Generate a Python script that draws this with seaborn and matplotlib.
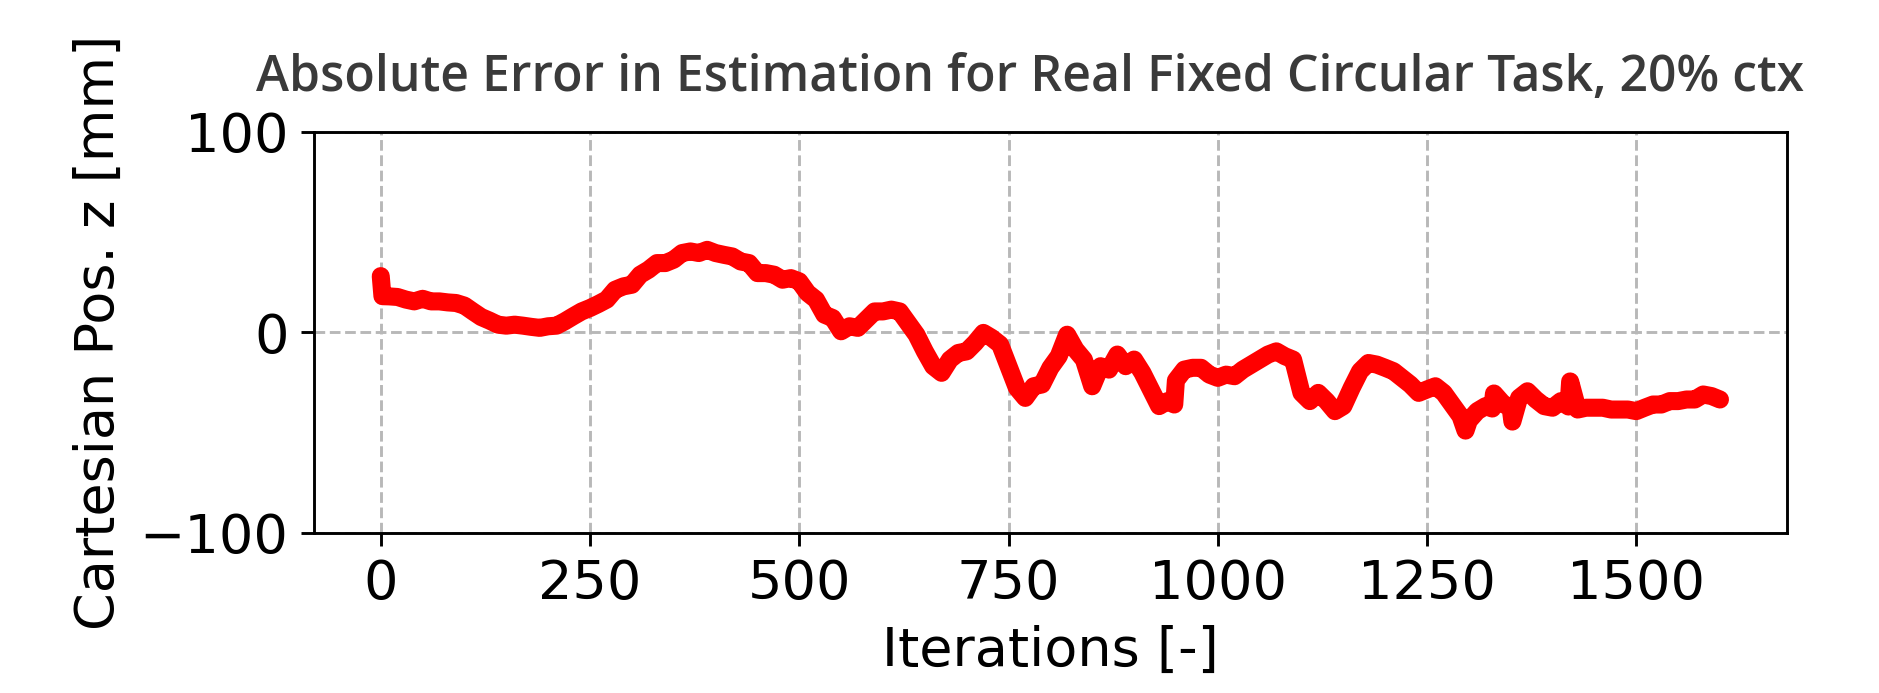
import numpy as np
import pandas as pd
import seaborn as sns
import matplotlib.pyplot as plt

# z-axis estimation error (iteration, mm)
iterations = [0, 2, 10, 20, 30, 40, 50, 60, 70, 80, 90, 100, 110, 120, 130, 140, 150,
              160, 170, 180, 190, 200, 210, 220, 230, 240, 250, 260, 270, 280, 290, 300,
              310, 320, 330, 340, 350, 360, 370, 380, 390, 400, 410, 420, 430, 440, 450,
              460, 470, 480, 490, 500, 510, 520, 530, 540, 550, 560, 570, 580, 590, 600,
              610, 620, 630, 640, 650, 660, 670, 680, 690, 700, 710, 720, 730, 740, 750,
              760, 770, 780, 790, 800, 810, 820, 830, 840, 850, 860, 870, 880, 890, 900,
              910, 920, 930, 940, 948, 950, 960, 970, 980, 990, 1000, 1010, 1020, 1030,
              1040, 1050, 1060, 1070, 1080, 1090, 1100, 1110, 1120, 1130, 1140, 1150,
              1160, 1170, 1180, 1190, 1200, 1210, 1220, 1230, 1240, 1250, 1260, 1270,
              1280, 1290, 1296, 1300, 1310, 1320, 1328, 1330, 1340, 1350, 1352, 1360,
              1370, 1380, 1390, 1400, 1410, 1419, 1421, 1430, 1440, 1450, 1460, 1470,
              1480, 1490, 1500, 1510, 1520, 1530, 1540, 1550, 1560, 1570, 1580, 1590, 1600]
error_z = [28.0, 18.0, 17.9, 17.6, 16.3, 15.4, 16.7, 15.4, 15.4, 14.9, 14.6, 13.3, 10.4,
           7.6, 5.8, 3.8, 3.3, 3.8, 3.3, 2.7, 2.2, 3.0, 3.3, 5.5, 8.0, 10.4, 12.1, 14.1,
           16.3, 21.2, 22.9, 23.7, 28.7, 31.2, 34.5, 34.5, 36.2, 39.5, 40.3, 39.5, 41.1,
           39.5, 38.6, 37.8, 35.3, 34.5, 29.5, 29.5, 28.7, 26.2, 27.0, 25.4, 19.6, 16.3,
           8.8, 7.1, 0.5, 3.0, 2.2, 6.3, 10.4, 10.4, 11.3, 10.4, 4.6, -1.2, -9.5, -16.9,
           -20.2, -13.6, -10.3, -9.5, -5.3, -0.3, -2.8, -6.1, -16.9, -27.7, -32.7, -26.9,
           -26.0, -17.7, -11.9, -1.2, -8.6, -13.6, -26.9, -16.9, -18.6, -11.1, -16.9,
           -13.6, -20.2, -28.5, -36.8, -34.3, -36.0, -24.0, -18.6, -17.7, -17.7, -21.1,
           -22.7, -21.1, -21.9, -18.6, -16.1, -13.6, -11.1, -9.5, -11.9, -13.6, -30.2,
           -34.3, -30.2, -34.3, -39.3, -36.8, -27.7, -19.4, -15.3, -16.1, -17.7, -19.4,
           -22.7, -26.0, -30.2, -28.5, -26.9, -30.2, -36.0, -41.8, -49.0, -44.0, -39.3,
           -36.8, -38.0, -30.5, -35.2, -38.0, -44.5, -32.7, -29.4, -33.5, -36.8, -37.6,
           -34.3, -37.0, -24.5, -38.5, -37.6, -37.6, -37.6, -38.5, -38.5, -38.5, -39.3,
           -37.6, -36.0, -36.0, -34.3, -34.3, -33.5, -33.5, -31.0, -31.8, -33.5]

df = pd.DataFrame({"iteration": iterations, "error": error_z})

sns.set_style("ticks")
plt.rcParams["font.family"] = ["DejaVu Sans"]
plt.rcParams.update({"text.color": "black", "axes.labelcolor": "black",
                     "xtick.color": "black", "ytick.color": "black"})

fig = plt.figure(figsize=(1879 / 260, 693 / 260), dpi=260)
ax = fig.add_axes([0.167, 0.231, 0.784, 0.579])

sns.lineplot(data=df, x="iteration", y="error", color="red", linewidth=5, ax=ax)

ax.set_ylim(-100, 100)
ax.set_yticks([-100, 0, 100])
ax.set_xticks([0, 250, 500, 750, 1000, 1250, 1500])
ax.margins(x=0.05)
ax.grid(True, linestyle="--", color="#b8b8b8", linewidth=0.8)
ax.tick_params(labelsize=15, colors="black")
ax.set_xlabel("Iterations [-]", fontsize=15)
ax.set_ylabel("Cartesian Pos. z [mm]", fontsize=15)
for s in ax.spines.values():
    s.set_visible(True)
    s.set_color("black")

fig.text(0.548, 0.868, "Absolute Error in Estimation for Real Fixed Circular Task, 20% ctx",
         ha="center", va="baseline", fontsize=13.8, color="#3a3a3a", fontweight="semibold",
         family=["Open Sans", "DejaVu Sans"])

fig.savefig("out.png", dpi=260)
